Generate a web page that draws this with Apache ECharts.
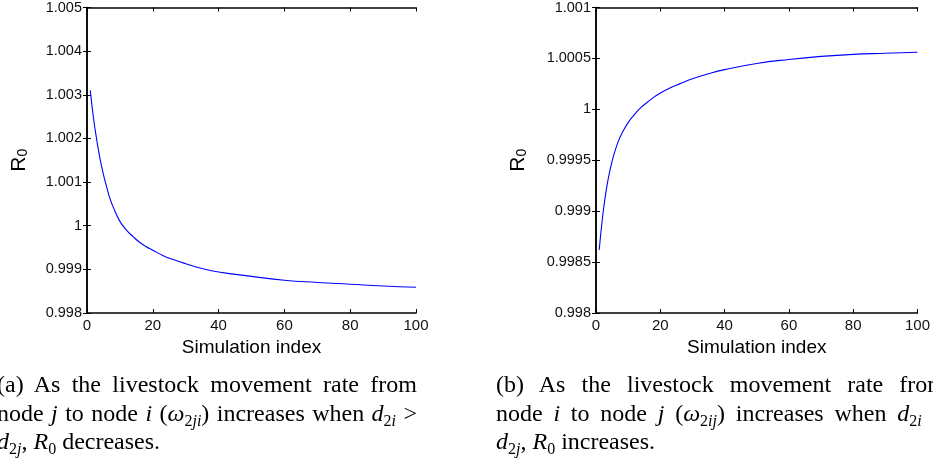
<!DOCTYPE html>
<html>
<head>
<meta charset="utf-8">
<script src="https://cdn.jsdelivr.net/npm/echarts@6/dist/echarts.min.js"></script>
<style>
    html, body { margin: 0; padding: 0; background: #fff; overflow: hidden; }
    #chart { position: absolute; left: 0; top: 0; width: 933px; height: 461px; }
    .caption {
        position: absolute;
        font-family: 'Liberation Serif', 'DejaVu Serif', serif;
        font-size: 24px;
        line-height: 28.5px;
        color: #000;
        white-space: nowrap;
    }
    .caption div { text-align: justify; text-align-last: justify; white-space: normal; }
    .caption div.last { text-align: left; text-align-last: left; }
    .caption sub { font-size: 16px; line-height: 0; vertical-align: -5px; }
    #capA { left: -3px; top: 370px; width: 420px; }
    #capB { left: 496px; top: 370px; width: 450px; }
</style>
</head>
<body>
<div id="chart"></div>
<div class="caption" id="capA">
    <div>(a) As the livestock movement rate from</div>
    <div>node <i>j</i> to node <i>i</i> (<i>ω</i><sub>2<i>ji</i></sub>) increases when <i>d</i><sub>2<i>i</i></sub> &gt;</div>
    <div class="last"><i>d</i><sub>2<i>j</i></sub>, <i>R</i><sub>0</sub> decreases.</div>
</div>
<div class="caption" id="capB">
    <div>(b) As the livestock movement rate from</div>
    <div>node <i>i</i> to node <i>j</i> (<i>ω</i><sub>2<i>ij</i></sub>) increases when <i>d</i><sub>2<i>i</i></sub> &gt;</div>
    <div class="last"><i>d</i><sub>2<i>j</i></sub>, <i>R</i><sub>0</sub> increases.</div>
</div>
<script>
// values
const simIndex = [1, 2, 3, 4, 5, 6, 7, 8, 10, 12, 14, 16, 18, 20, 23, 26, 30, 35, 40, 50, 60, 70, 80, 90, 100];
const r0Decreasing = [1.00310, 1.00245, 1.00195, 1.00152, 1.00117, 1.00088, 1.00062, 1.00042, 1.00010, 0.99990,
    0.99975, 0.99962, 0.99952, 0.99944, 0.99932, 0.99923, 0.99913, 0.99902, 0.99894, 0.99884,
    0.99875, 0.99870, 0.99866, 0.99862, 0.99859];
const r0Increasing = [0.99862, 0.99893, 0.99917, 0.99935, 0.99949, 0.99960, 0.99969, 0.99976, 0.99987, 0.99995,
    1.00002, 1.00007, 1.00012, 1.00016, 1.00021, 1.00025, 1.00030, 1.00035, 1.00039, 1.00045,
    1.00049, 1.00052, 1.00054, 1.00055, 1.00056];
const xTicks = [0, 20, 40, 60, 80, 100];
const yTicksA = [0.998, 0.999, 1, 1.001, 1.002, 1.003, 1.004, 1.005];
const yTicksB = [0.998, 0.9985, 0.999, 0.9995, 1, 1.0005, 1.001];

const FONT = "'Liberation Sans', Arial, sans-serif";
const AXIS_LINE = { lineStyle: { color: '#000', width: 1.5 } };
const TICK = { show: true, inside: true, length: 4, lineStyle: { color: '#000', width: 1 } };

function fmt(v) {
    return String(parseFloat(v.toFixed(5)));
}

function xAxes(gridIndex) {
    const base = {
        type: 'value', gridIndex: gridIndex,
        min: xTicks[0], max: xTicks[xTicks.length - 1], interval: xTicks[1] - xTicks[0],
        axisLine: AXIS_LINE, axisTick: TICK, splitLine: { show: false }
    };
    return [
        Object.assign({}, base, {
            position: 'bottom',
            axisLabel: { color: '#111', fontFamily: FONT, fontSize: 15, margin: 5 },
            name: 'Simulation index', nameLocation: 'middle', nameGap: 22,
            nameTextStyle: { color: '#000', fontFamily: FONT, fontSize: 19 }
        }),
        Object.assign({}, base, { position: 'top', axisLabel: { show: false } })
    ];
}

function yAxes(gridIndex, ticks, nameGap) {
    const base = {
        type: 'value', gridIndex: gridIndex,
        min: ticks[0], max: ticks[ticks.length - 1], interval: +(ticks[1] - ticks[0]).toFixed(5),
        axisLine: AXIS_LINE, axisTick: TICK, splitLine: { show: false }
    };
    return [
        Object.assign({}, base, {
            position: 'left',
            axisLabel: { color: '#111', fontFamily: FONT, fontSize: 14.5, margin: 5, formatter: fmt },
            name: '{r|R}{s|0}', nameLocation: 'middle', nameGap: nameGap, nameRotate: 90,
            nameTextStyle: {
                color: '#000', fontFamily: FONT, fontSize: 21,
                rich: {
                    r: { fontSize: 21, fontFamily: FONT, color: '#000', verticalAlign: 'bottom' },
                    s: { fontSize: 14, fontFamily: FONT, color: '#000', verticalAlign: 'bottom', lineHeight: 10 }
                }
            }
        }),
        Object.assign({}, base, { position: 'right', axisLabel: { show: false } })
    ];
}

const chart = echarts.init(document.getElementById('chart'), null, { renderer: 'canvas' });
chart.setOption({
    animation: false,
    backgroundColor: '#fff',
    grid: [
        { left: 87, top: 7, width: 329, height: 306 },
        { left: 596, top: 7, width: 322, height: 306 }
    ],
    xAxis: xAxes(0).concat(xAxes(1)),
    yAxis: yAxes(0, yTicksA, 57).concat(yAxes(1, yTicksB, 67)),
    series: [
        {
            type: 'line', xAxisIndex: 0, yAxisIndex: 0,
            data: simIndex.map((x, i) => [x, r0Decreasing[i]]),
            smooth: 0.5, showSymbol: false,
            lineStyle: { color: '#0000ff', width: 1.1 }
        },
        {
            type: 'line', xAxisIndex: 2, yAxisIndex: 2,
            data: simIndex.map((x, i) => [x, r0Increasing[i]]),
            smooth: 0.5, showSymbol: false,
            lineStyle: { color: '#0000ff', width: 1.1 }
        }
    ]
});
</script>
</body>
</html>
